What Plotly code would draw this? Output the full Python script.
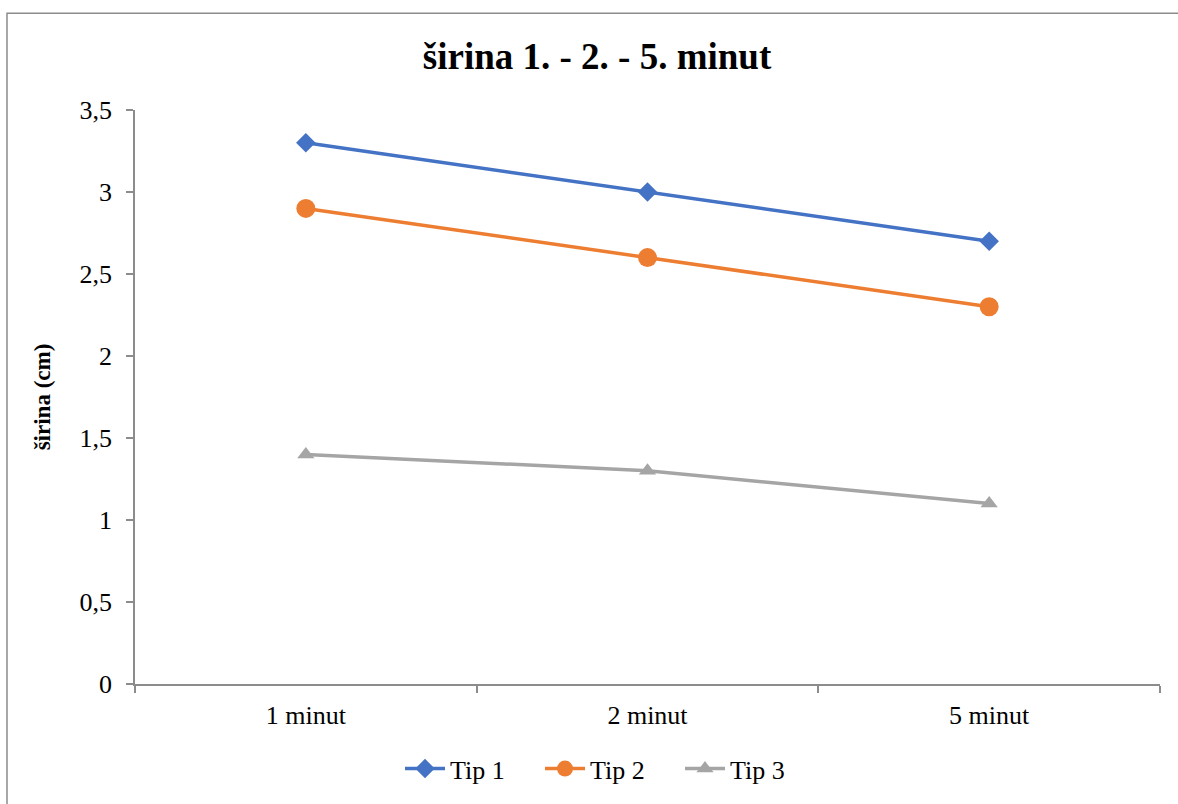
import plotly.graph_objects as go

categories = ["1 minut", "2 minut", "5 minut"]
tip1 = [3.3, 3.0, 2.7]
tip2 = [2.9, 2.6, 2.3]
tip3 = [1.4, 1.3, 1.1]
y_ticks = [0, 0.5, 1, 1.5, 2, 2.5, 3, 3.5]

SERIF = "Liberation Serif, Times New Roman, serif"
AXIS_COLOR = "#8c8c8c"

fig = go.Figure()
fig.add_trace(go.Scatter(x=categories, y=tip1, name="Tip 1", mode="lines+markers",
                         line=dict(color="#4472C4", width=3.5),
                         marker=dict(symbol="diamond", size=15, color="#4472C4")))
fig.add_trace(go.Scatter(x=categories, y=tip2, name="Tip 2", mode="lines+markers",
                         line=dict(color="#ED7D31", width=3.5),
                         marker=dict(symbol="circle", size=19, color="#ED7D31")))
fig.add_trace(go.Scatter(x=categories, y=tip3, name="Tip 3", mode="lines+markers",
                         line=dict(color="#A5A5A5", width=3.5),
                         marker=dict(symbol="triangle-up", size=15, color="#A5A5A5")))

L, R, T, B = 135, 18, 110, 118
W, H = 1178, 804
pw, ph = W - L - R, H - T - B

fig.update_layout(
    width=W, height=H,
    margin=dict(l=L, r=R, t=T, b=B),
    paper_bgcolor="white", plot_bgcolor="white",
    separators=",.",
    font=dict(family=SERIF, size=26, color="black"),
    title=dict(text="<b>širina 1. - 2. - 5. minut</b>", font=dict(family=SERIF, size=37, color="black"),
               x=597 / W, xanchor="center", xref="container",
               y=1 - 56 / H, yanchor="middle", yref="container"),
    showlegend=True,
    legend=dict(orientation="h", x=(400 - L) / pw, xanchor="left",
                y=(686 - 771) / ph, yanchor="middle",
                font=dict(family=SERIF, size=26, color="black"),
                entrywidth=85, entrywidthmode="pixels",
                itemwidth=40, tracegroupgap=0, bgcolor="rgba(0,0,0,0)"),
    xaxis=dict(type="category", range=[-0.5, 2.5], showgrid=False,
               showline=True, linecolor=AXIS_COLOR, linewidth=1.5,
               ticks="outside", ticklen=7, tickcolor=AXIS_COLOR, tickwidth=1.5,
               tickson="boundaries", ticklabelstandoff=7,
               tickfont=dict(family=SERIF, size=26, color="black"), zeroline=False),
    yaxis=dict(range=[0, 3.5], tickvals=y_ticks, showgrid=False,
               showline=True, linecolor=AXIS_COLOR, linewidth=1.5,
               ticks="outside", ticklen=7, tickcolor=AXIS_COLOR, tickwidth=1.5,
               ticklabelstandoff=9, zeroline=False,
               tickfont=dict(family=SERIF, size=26, color="black"),
               title=dict(text="<b>širina (cm)</b>", standoff=22,
                          font=dict(family=SERIF, size=23, color="black"))),
)

fig.add_shape(type="rect", xref="paper", yref="paper",
              x0=(7 - L) / pw, x1=(W + 5 - L) / pw,
              y0=(686 - (H + 5)) / ph, y1=(686 - 13) / ph,
              line=dict(color="#8c8c8c", width=1.5), fillcolor="rgba(0,0,0,0)", layer="below")

fig.write_html("out.html")
